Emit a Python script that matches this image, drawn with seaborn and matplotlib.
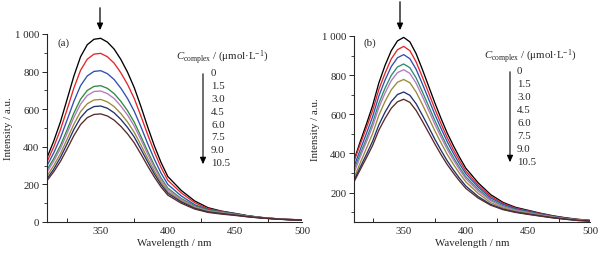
import numpy as np
import pandas as pd
import matplotlib
matplotlib.use("Agg")
import matplotlib.pyplot as plt
import seaborn as sns
from matplotlib.ticker import MultipleLocator, FuncFormatter

# ---------------- data ----------------
wavelength = [310, 315, 320, 325, 330, 335, 340, 345, 350, 355, 360, 365, 370, 375,
              380, 385, 390, 395, 400, 410, 420, 430, 440, 450, 460, 470, 480, 490, 500]
conc_labels = ["0", "1.5", "3.0", "4.5", "6.0", "7.5", "9.0", "10.5"]

# panel (a)
a_0 = [342, 430, 532, 653, 776, 879, 943, 972, 977, 957, 920, 865, 797, 715, 614, 506, 405, 316, 242, 168, 112, 76, 58, 46, 33, 24, 18, 14, 11]
a_15 = [320, 399, 491, 599, 712, 807, 866, 893, 897, 879, 845, 794, 732, 657, 563, 465, 372, 290, 222, 155, 103, 71, 56, 44, 32, 24, 18, 14, 11]
a_30 = [300, 367, 447, 543, 641, 725, 777, 801, 805, 789, 758, 712, 657, 589, 506, 417, 334, 260, 200, 139, 92, 67, 54, 44, 32, 23, 17, 13, 10]
a_45 = [278, 337, 407, 491, 579, 653, 700, 721, 725, 711, 683, 642, 592, 531, 455, 376, 301, 234, 180, 125, 86, 64, 53, 42, 31, 23, 17, 13, 10]
a_60 = [265, 323, 390, 472, 556, 627, 673, 694, 697, 683, 657, 617, 569, 510, 438, 361, 289, 225, 173, 120, 81, 60, 50, 40, 30, 22, 17, 13, 10]
a_75 = [245, 300, 363, 441, 520, 587, 629, 649, 652, 639, 614, 577, 532, 477, 409, 338, 271, 211, 162, 113, 77, 57, 47, 38, 29, 22, 17, 13, 10]
a_90 = [230, 281, 343, 416, 492, 555, 595, 614, 617, 605, 581, 546, 503, 452, 387, 320, 256, 199, 153, 107, 73, 54, 45, 37, 28, 21, 16, 12, 10]
a_105 = [220, 267, 322, 389, 459, 518, 555, 572, 575, 564, 542, 509, 469, 421, 361, 298, 239, 186, 143, 100, 69, 51, 42, 35, 27, 21, 16, 12, 10]

# panel (b)
b_0 = [365, 460, 550, 645, 760, 850, 925, 975, 993, 970, 910, 830, 745, 660, 580, 505, 440, 380, 325, 250, 190, 150, 125, 110, 95, 82, 72, 64, 58]
b_15 = [360, 447, 531, 619, 727, 810, 883, 930, 947, 925, 868, 791, 711, 629, 553, 482, 419, 363, 310, 238, 181, 145, 121, 107, 93, 80, 70, 63, 58]
b_30 = [333, 419, 502, 588, 693, 775, 844, 889, 905, 884, 830, 756, 679, 601, 529, 461, 401, 346, 297, 228, 173, 140, 118, 105, 91, 79, 69, 62, 57]
b_45 = [318, 397, 475, 557, 656, 734, 799, 842, 857, 838, 786, 716, 643, 570, 501, 436, 380, 328, 281, 216, 164, 133, 113, 101, 88, 77, 68, 61, 57]
b_60 = [300, 383, 459, 538, 634, 709, 772, 813, 828, 809, 759, 692, 622, 550, 484, 422, 367, 317, 271, 208, 159, 128, 110, 98, 86, 76, 67, 60, 56]
b_75 = [275, 352, 426, 502, 595, 666, 725, 764, 778, 761, 714, 651, 584, 517, 455, 396, 345, 298, 255, 196, 149, 122, 105, 95, 84, 74, 66, 59, 56]
b_90 = [262, 330, 395, 463, 546, 611, 665, 701, 714, 697, 654, 596, 536, 474, 417, 363, 316, 273, 234, 180, 140, 116, 101, 91, 81, 72, 65, 58, 55]
b_105 = [255, 317, 378, 441, 519, 579, 631, 664, 677, 661, 620, 565, 508, 450, 395, 344, 300, 259, 222, 172, 136, 113, 99, 89, 80, 71, 64, 58, 55]

panel_a = [a_0, a_15, a_30, a_45, a_60, a_75, a_90, a_105]
panel_b = [b_0, b_15, b_30, b_45, b_60, b_75, b_90, b_105]

colors_a = ["#000000", "#e3262a", "#2f4fb0", "#2f8a3a", "#b27ac4", "#9a8a3a", "#23306e", "#5a2a2a"]
colors_b = ["#000000", "#e3262a", "#2f4fb0", "#2f8a6a", "#b27ac4", "#9a8a3a", "#23306e", "#5a2a2a"]


def long_df(series):
    rows = []
    for lab, vals in zip(conc_labels, series):
        for w, v in zip(wavelength, vals):
            rows.append({"wl": w, "I": v, "c": lab})
    return pd.DataFrame(rows)


# ---------------- style ----------------
sns.set_style("ticks")
plt.rcParams["font.family"] = ["Liberation Serif", "DejaVu Serif"]
plt.rcParams["mathtext.fontset"] = "custom"
plt.rcParams["mathtext.rm"] = "Liberation Serif"
plt.rcParams["mathtext.it"] = "Liberation Serif:italic"
FS = 7.8
plt.rcParams["font.size"] = FS

fig = plt.figure(figsize=(6.03, 2.55), dpi=100)
W, H = 603.0, 255.0
ax_a = fig.add_axes([47 / W, 1 - 223 / H, (302 - 47) / W, (223 - 35) / H])
ax_b = fig.add_axes([354 / W, 1 - 223 / H, (590 - 354) / W, (223 - 37) / H])

fmt = FuncFormatter(lambda v, p: "1 000" if abs(v - 1000) < 1e-6 else f"{int(v)}")

for ax, series, cols, ylo, tag, tx, ty in [
    (ax_a, panel_a, colors_a, 0, "(a)", 0.04, 0.957),
    (ax_b, panel_b, colors_b, 50, "(b)", 0.042, 0.968),
]:
    df = long_df(series)
    sns.lineplot(data=df, x="wl", y="I", hue="c", hue_order=conc_labels,
                 palette=cols, ax=ax, legend=False, linewidth=0.95, sort=True)
    ax.set_xlim(310, 500)
    ax.set_ylim(ylo, 1000)
    sns.despine(ax=ax)
    ax.spines["left"].set_linewidth(0.8)
    ax.spines["bottom"].set_linewidth(0.8)
    ax.xaxis.set_major_locator(MultipleLocator(50))
    ax.xaxis.set_minor_locator(MultipleLocator(25))
    ax.yaxis.set_major_locator(MultipleLocator(200))
    ax.yaxis.set_minor_locator(MultipleLocator(100))
    ax.yaxis.set_major_formatter(fmt)
    ax.tick_params(axis="x", which="both", direction="in", labelsize=FS, pad=3)
    ax.tick_params(axis="x", which="major", length=0)
    ax.tick_params(axis="x", which="minor", length=3, width=0.7)
    ax.tick_params(axis="y", which="major", direction="out", length=3.5, width=0.7, labelsize=FS, pad=2)
    ax.tick_params(axis="y", which="minor", direction="out", length=2.5, width=0.6)
    ax.set_xlabel("Wavelength / nm", fontsize=FS, labelpad=2)
    ax.set_ylabel("Intensity / a.u.", fontsize=FS, labelpad=1.5)
    ax.text(tx, ty, tag, transform=ax.transAxes, fontsize=FS, va="center", ha="left")

# annotations (pixel positions converted to figure fractions)
def fx(x):
    return x / W


def fy(y):
    return 1 - y / H


for (x_top, y0, y1), (lx, ly), (arx, ay0, ay1), (nx, ny0, dy) in [
    ((100, 6, 34), (176, 58), (203, 72, 168), (211, 74, 12.8)),
    ((400, 0, 34), (484, 57), (510, 70, 166), (517, 72, 12.9)),
]:
    fig.add_artist(matplotlib.patches.FancyArrowPatch(
        (fx(x_top), fy(y0)), (fx(x_top), fy(y1)), transform=fig.transFigure,
        arrowstyle="-|>,head_length=4,head_width=1.8", color="black", lw=0.9,
        mutation_scale=1))
    fig.text(fx(lx), fy(ly), r"$C_{\mathrm{complex}}$ / (μmol·L$^{-1}$)",
             fontsize=FS, ha="left", va="center")
    fig.add_artist(matplotlib.patches.FancyArrowPatch(
        (fx(arx), fy(ay0)), (fx(arx), fy(ay1)), transform=fig.transFigure,
        arrowstyle="-|>,head_length=4,head_width=1.8", color="black", lw=0.8,
        mutation_scale=1))
    for i, lab in enumerate(conc_labels):
        fig.text(fx(nx), fy(ny0 + i * dy), lab, fontsize=FS, ha="left", va="center")

fig.savefig("out.png", dpi=100, facecolor="white")
